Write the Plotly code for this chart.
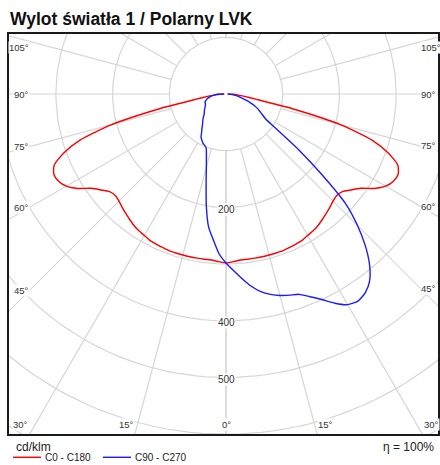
import math
import plotly.graph_objects as go

# ---------------- data (cd/klm) ----------------
ANGLES = [0, 2.5, 5, 7.5, 10, 12.5, 15, 17.5, 20, 22.5, 25, 27.5, 30, 32.5, 35, 37.5,
          40, 42.5, 45, 47.5, 50, 52.5, 55, 57.5, 60, 62.5, 65, 67.5, 70, 72.5, 75,
          77.5, 80, 82.5, 85, 87.5, 90]
C0_C180 = [298, 296, 294, 294, 294, 294, 294, 294, 294, 293, 292, 291, 288, 286, 283, 279,
           275, 271, 267, 265, 268, 278, 290, 310, 325, 333, 335, 328, 305, 270, 210,
           120, 55, 33, 22, 12, 3]
C90 = [298, 312, 327, 342, 354, 362, 368, 372, 376, 387, 400, 416, 429, 433, 428, 416,
       394, 364, 328, 286, 220, 162, 112, 84, 75, 68, 62, 55, 46, 38, 30,
       24, 20, 15, 11, 7, 3]
C270 = [298, 282, 258, 236, 200, 162, 134, 115, 102, 98, 96, 92, 88, 80, 74, 68,
        64, 60, 56, 52, 50, 48, 46, 44, 42, 41, 40, 40, 39, 37, 35,
        32, 29, 25, 20, 12, 4]
RINGS = [100, 200, 300, 400, 500, 600, 700, 800]
RING_LABELS = [200, 400, 500]
RAY_ANGLES = list(range(0, 181, 15))
SIDE_LABELS = [105, 90, 75, 60, 45]
BOTTOM_LABELS = [30, 15, 0]
TITLE = "Wylot światła 1 / Polarny LVK"
UNIT = "cd/klm"
EFF = "η = 100%"
NAMES = ["C0 - C180", "C90 - C270"]

# ---------------- geometry ----------------
W, H = 440, 465
L, R, T, B = 8, 1, 33, 30
S = 0.567                  # px per cd/klm
CX, CY = 226, 94           # pole position in px
PW, PH = W - L - R, H - T - B
x0 = -(CX - L) / S
x1 = x0 + PW / S
y1 = (CY - T) / S
y0 = y1 - PH / S

def pol(a_deg, r, side):
    a = math.radians(a_deg)
    return side * r * math.sin(a), -r * math.cos(a)

def paper(px, py):
    return (px - L) / PW, (T + PH - py) / PH

FONT = "Liberation Sans, Arial, sans-serif"
GRID = "#d6d6d6"

fig = go.Figure()

# rings
gx, gy = [], []
for r in RINGS:
    for k in range(0, 361, 2):
        a = math.radians(k)
        gx.append(r * math.cos(a)); gy.append(r * math.sin(a))
    gx.append(None); gy.append(None)
# rays
for a in RAY_ANGLES:
    for side in (-1, 1):
        xa, ya = pol(a, RINGS[0], side)
        xb, yb = pol(a, 2000, side)
        gx += [xa, xb, None]; gy += [ya, yb, None]
fig.add_trace(go.Scatter(x=gx, y=gy, mode="lines", line=dict(color=GRID, width=1.2),
                         hoverinfo="skip", showlegend=False))

def curve(left_vals, right_vals):
    xs, ys = [], []
    for a, v in zip(reversed(ANGLES), reversed(left_vals)):
        x, y = pol(a, v, -1); xs.append(x); ys.append(y)
    for a, v in list(zip(ANGLES, right_vals))[1:]:
        x, y = pol(a, v, 1); xs.append(x); ys.append(y)
    return xs, ys

rx, ry = curve(C0_C180, C0_C180)
bx, by = curve(C270, C90)
fig.add_trace(go.Scatter(x=rx, y=ry, mode="lines", name=NAMES[0],
                         line=dict(color="#ff0000", width=1.4, shape="spline", smoothing=0.6),
                         showlegend=False))
fig.add_trace(go.Scatter(x=bx, y=by, mode="lines", name=NAMES[1],
                         line=dict(color="#1a1aff", width=1.4, shape="spline", smoothing=0.6),
                         showlegend=False))

ann = []
# ring labels
for r in RING_LABELS:
    ann.append(dict(x=0, y=-r - 2 / S, xref="x", yref="y", text=str(r), showarrow=False,
                    font=dict(family=FONT, size=10, color="#333"), bgcolor="white",
                    borderpad=0, xanchor="center", yanchor="middle"))
# side angle labels
for a in SIDE_LABELS:
    cot = math.cos(math.radians(a)) / math.sin(math.radians(a))
    for side, dxp, anchor in ((-1, 196, "right"), (1, 194, "left")):
        dy = dxp * cot
        dy = max(dy, -(CY - 47))
        ann.append(dict(x=side * dxp / S, y=-dy / S, xref="x", yref="y", text=f"{a}°",
                        showarrow=False, font=dict(family=FONT, size=9.5, color="#333"),
                        bgcolor="white", borderpad=0, xanchor=anchor, yanchor="middle"))
# bottom angle labels
bot = T + PH
for a in BOTTOM_LABELS:
    for side in ((-1, 1) if a else (1,)):
        dx = (bot - CY) * math.tan(math.radians(a))
        anchor = "center" if a == 0 else ("right" if side < 0 else "left")
        ann.append(dict(x=side * dx / S, y=-(424.3 - CY) / S, xref="x", yref="y",
                        text=f"{a}°", showarrow=False,
                        font=dict(family=FONT, size=9.5, color="#333"),
                        bgcolor="white", borderpad=0, xanchor=anchor, yanchor="middle"))

# title and footer texts
px_, py_ = paper(8, 19)
ann.append(dict(x=px_, y=py_, xref="paper", yref="paper", text=f"<b>{TITLE}</b>",
                showarrow=False, font=dict(family=FONT, size=17.5, color="#111"),
                xanchor="left", yanchor="middle"))
px_, py_ = paper(14, 447)
ann.append(dict(x=px_, y=py_, xref="paper", yref="paper", text=UNIT, showarrow=False,
                font=dict(family=FONT, size=12, color="#222"), xanchor="left", yanchor="middle"))
px_, py_ = paper(436, 447)
ann.append(dict(x=px_, y=py_, xref="paper", yref="paper", text=EFF, showarrow=False,
                font=dict(family=FONT, size=12, color="#222"), xanchor="right", yanchor="middle"))
shapes = []
for (lx0, lx1, tx), name, col in (((13, 41, 43), NAMES[0], "#ff0000"),
                                   ((103, 131, 133), NAMES[1], "#1a1aff")):
    a0, yy = paper(lx0, 457.3)
    a1, _ = paper(lx1, 457.3)
    shapes.append(dict(type="line", xref="paper", yref="paper", x0=a0, x1=a1, y0=yy, y1=yy,
                       line=dict(color=col, width=1.4)))
    t0, _ = paper(tx, 457.3)
    ann.append(dict(x=t0, y=yy, xref="paper", yref="paper", text=name, showarrow=False,
                    font=dict(family=FONT, size=10, color="#222"), xanchor="left",
                    yanchor="middle"))
shapes.append(dict(type="rect", xref="paper", yref="paper", x0=0, x1=1, y0=0, y1=1,
                   line=dict(color="#1a1a1a", width=2)))

fig.update_layout(
    width=W, height=H, margin=dict(l=L, r=R, t=T, b=B),
    paper_bgcolor="white", plot_bgcolor="white",
    xaxis=dict(range=[x0, x1], visible=False, fixedrange=True),
    yaxis=dict(range=[y0, y1], visible=False, fixedrange=True),
    annotations=ann, shapes=shapes, showlegend=False,
)
fig.write_html("out.html", config={"displayModeBar": False},
               post_script="document.body.style.margin='0';document.body.style.overflow='hidden';")
